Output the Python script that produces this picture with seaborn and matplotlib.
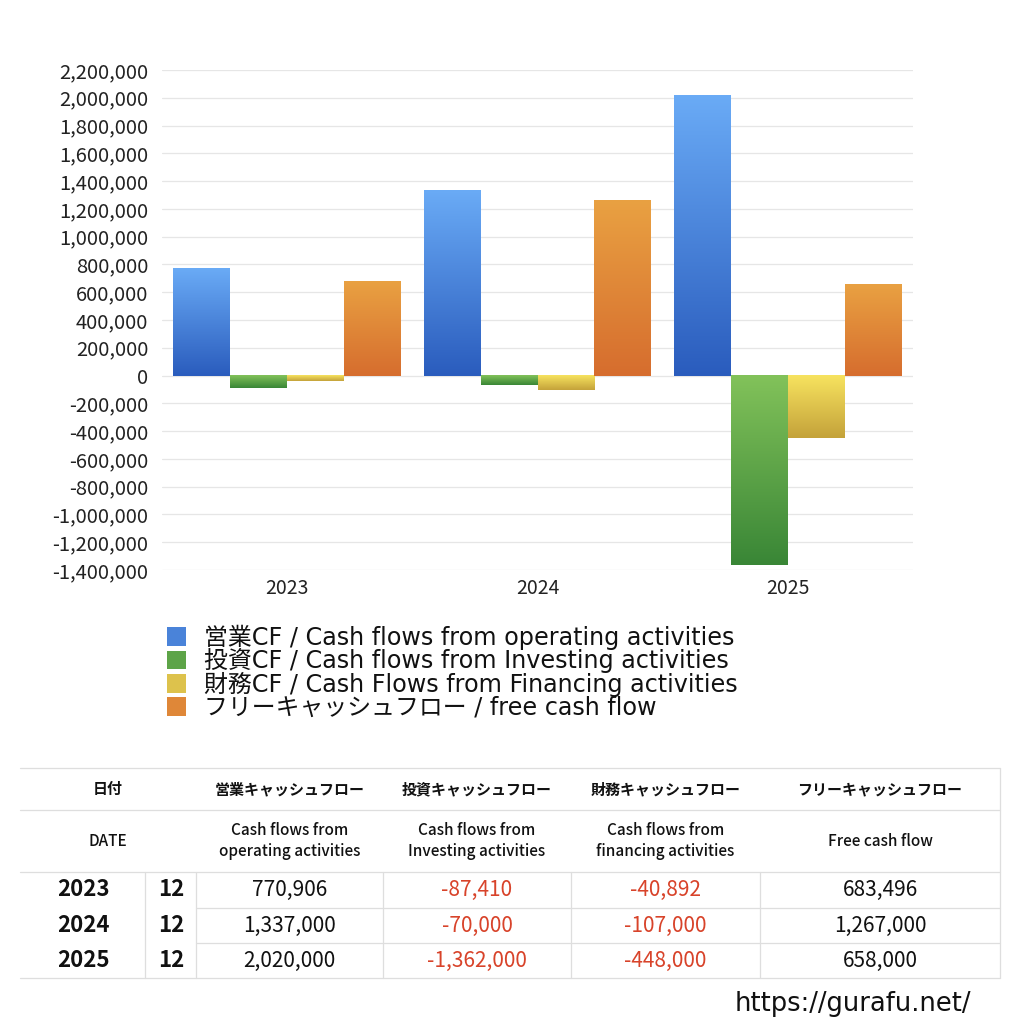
import numpy as np
import pandas as pd
import matplotlib
matplotlib.use("Agg")
import matplotlib.pyplot as plt
import seaborn as sns
from matplotlib.colors import LinearSegmentedColormap
from matplotlib.patches import Patch
from matplotlib.lines import Line2D

years = ["2023", "2024", "2025"]
months = ["12", "12", "12"]
operating_cf = [770906, 1337000, 2020000]
investing_cf = [-87410, -70000, -1362000]
financing_cf = [-40892, -107000, -448000]
free_cf = [683496, 1267000, 658000]

series_labels = [
    "営業CF / Cash flows from operating activities",
    "投資CF / Cash flows from Investing activities",
    "財務CF / Cash Flows from Financing activities",
    "フリーキャッシュフロー / free cash flow",
]
# (top colour, bottom colour) of each bar gradient
grad_colors = [("#6aabf6", "#2a5cbd"), ("#82c25a", "#398636"),
               ("#f7e35f", "#c4a23a"), ("#e9a142", "#d66d2e")]

y_ticks = list(range(-1400000, 2200001, 200000))

jp_headers = ["日付", "営業キャッシュフロー", "投資キャッシュフロー", "財務キャッシュフロー", "フリーキャッシュフロー"]
en_headers = ["DATE", "Cash flows from\noperating activities", "Cash flows from\nInvesting activities",
              "Cash flows from\nfinancing activities", "Free cash flow"]

df = pd.DataFrame({
    "year": years * 4,
    "series": np.repeat(series_labels, 3),
    "value": operating_cf + investing_cf + financing_cf + free_cf,
})

sns.set_theme(style="white")
plt.rcParams["font.family"] = ["Noto Sans CJK JP", "DejaVu Sans"]

W = 1024
fig = plt.figure(figsize=(10.24, 10.24), dpi=100)
ax = fig.add_axes([162 / W, 1 - 570 / W, (913 - 162) / W, 500 / W])

sns.barplot(data=df, x="year", y="value", hue="series", palette=[c[1] for c in grad_colors],
            width=0.91, gap=0, dodge=True, errorbar=None, ax=ax, legend=False, zorder=2)

# replace the flat fills with vertical gradients
grad = np.linspace(0, 1, 256).reshape(-1, 1)
n = len(years)
for i, bar in enumerate(ax.patches):
    top_c, bot_c = grad_colors[i // n]
    cmap = LinearSegmentedColormap.from_list("g", [top_c, bot_c])
    x0 = bar.get_x()
    w = bar.get_width()
    y0 = bar.get_y()
    h = bar.get_height()
    lo, hi = min(y0, y0 + h), max(y0, y0 + h)
    ax.imshow(grad, cmap=cmap, aspect="auto", extent=[x0, x0 + w, lo, hi],
              origin="upper", zorder=3, interpolation="bilinear")
    bar.set_visible(False)
ax.set_xlim(-0.5, 2.5)
ax.set_ylim(-1400000, 2200000)

ax.set_yticks(y_ticks)
ax.set_yticklabels([f"{v:,}" for v in y_ticks])
ax.yaxis.grid(True, color="#e6e6e6", linewidth=0.9, zorder=0)
ax.set_axisbelow(True)
for s in ax.spines.values():
    s.set_visible(False)
ax.tick_params(axis="y", length=0, pad=10, labelsize=14.5, labelcolor="#222222")
ax.tick_params(axis="x", length=0, pad=6, labelsize=14, labelcolor="#222222")
ax.set_xlabel("")
ax.set_ylabel("")

handles = [Patch(facecolor=LinearSegmentedColormap.from_list("g", c)(0.5), edgecolor="none")
           for c in grad_colors]
fig.legend(handles, series_labels, loc="upper left", bbox_to_anchor=(157 / W, 1 - 615 / W),
           frameon=False, handlelength=0.82, handleheight=0.82,
           handletextpad=0.75, labelspacing=-0.06, borderaxespad=0, labelcolor="#111111",
           prop={"family": ["DejaVu Sans", "Noto Sans CJK JP"], "size": 17.2})

# table drawn on an overlay axes in pixel coordinates
tax = fig.add_axes([0, 0, 1, 1])
tax.set_xlim(0, W)
tax.set_ylim(W, 0)
tax.axis("off")

line_c = "#dedede"
col_x = [20, 145, 196, 383, 571, 760, 1000]
row_y = [768, 810, 872, 908, 943, 978]

def hline(y, x0, x1):
    tax.add_line(Line2D([x0, x1], [y, y], color=line_c, lw=0.9))

def vline(x, y0, y1):
    tax.add_line(Line2D([x, x], [y0, y1], color=line_c, lw=0.9))

hline(row_y[0], col_x[0], col_x[-1])
hline(row_y[1], col_x[0], col_x[-1])
hline(row_y[2], col_x[0], col_x[-1])
hline(row_y[3], col_x[2], col_x[-1])
hline(row_y[4], col_x[2], col_x[-1])
hline(row_y[5], col_x[0], col_x[-1])
vline(col_x[-1], row_y[0], row_y[-1])
for x in col_x[1:-1]:
    vline(x, row_y[2], row_y[-1])

hdr_centers = [(col_x[0] + col_x[2]) / 2] + [(col_x[k] + col_x[k + 1]) / 2 for k in range(2, 6)]
for cx, jp, en in zip(hdr_centers, jp_headers, en_headers):
    tax.text(cx, (row_y[0] + row_y[1]) / 2, jp, ha="center", va="center",
             fontsize=10.8, fontweight="bold", color="#111111")
    tax.text(cx, (row_y[1] + row_y[2]) / 2, en, ha="center", va="center",
             fontsize=11, fontweight="medium", color="#111111", linespacing=1.35)

red = "#d8432a"
for r, yr in enumerate(years):
    cy = (row_y[2 + r] + row_y[3 + r]) / 2
    tax.text(83, cy, yr, ha="center", va="center", fontsize=16, fontweight="bold", color="#111111")
    tax.text(171, cy, months[r], ha="center", va="center", fontsize=16, fontweight="bold", color="#111111")
    vals = [operating_cf[r], investing_cf[r], financing_cf[r], free_cf[r]]
    for k, v in enumerate(vals):
        cx = (col_x[2 + k] + col_x[3 + k]) / 2
        tax.text(cx, cy, f"{v:,}", ha="center", va="center", fontsize=15,
                 color=red if v < 0 else "#111111")

tax.text(853, 1004, "https://gurafu.net/", ha="center", va="center", fontsize=18.5,
         color="#111111", family=["DejaVu Sans"])

fig.savefig("out.png", dpi=100, facecolor="white")
